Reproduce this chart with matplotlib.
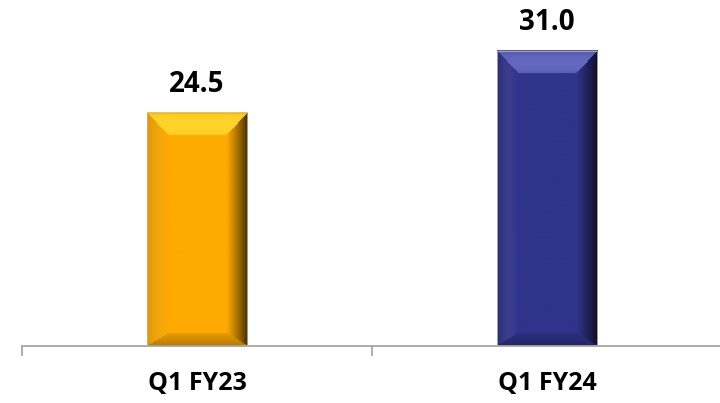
import matplotlib.pyplot as plt
import numpy as np
from matplotlib.colors import to_rgb

# data
categories = ['Q1 FY23', 'Q1 FY24']
values = [24.5, 31.0]
value_labels = ['24.5', '31.0']
bar_colors = ['#FFAA00', '#30338A']
top_tints = ['#FFD52A', '#6469BE']

plt.rcParams['font.family'] = ['Open Sans', 'DejaVu Sans']


def bevel_image(color, tint, w, h, top=23, side=21, bottom=13):
    # raster of a bevelled bar: light top, dark right edge, darker bottom
    base = np.array(to_rgb(color))
    lt = np.array(to_rgb(tint))
    yy, xx = np.mgrid[0:h, 0:w] + 0.5
    d = np.stack([yy / top, (h - yy) / bottom, xx / side, (w - xx) / side])
    m = d.min(0)
    k = d.argmin(0)
    t = np.clip(m, 0, 1)[..., None]
    img = np.tile(base, (h, w, 1))
    sel = m < 1
    # top bevel: warmer at the rim, bright band toward the face
    top_c = base + (lt - base) * (0.35 + 0.65 * np.sin(np.pi * (0.15 + 0.6 * t)))
    img[sel & (k == 0)] = top_c[sel & (k == 0)]
    # left bevel: slightly darker rim, light stripe inside
    left_c = base * (0.88 + 0.12 * t) + (1 - base) * 0.06 * np.sin(np.pi * t)
    img[sel & (k == 2)] = left_c[sel & (k == 2)]
    # right bevel: fades to near black at the rim
    right_c = base * (0.22 + 0.78 * t ** 0.8)
    img[sel & (k == 3)] = right_c[sel & (k == 3)]
    # bottom bevel
    bot_c = base * (0.72 + 0.2 * t)
    img[sel & (k == 1)] = bot_c[sel & (k == 1)]
    return np.clip(img, 0, 1)


fig = plt.figure(figsize=(7.2, 4.03), dpi=100)
ax = fig.add_axes([22 / 720, 57 / 403, 700 / 720, 346 / 403])

x = np.arange(len(categories))
bars = ax.bar(x, values, width=0.286, color='none', edgecolor='#BDB3A0',
              linewidth=0.6, zorder=3)
ax.set_xlim(-0.5, 1.5)
ax.set_ylim(0, 36.34)

for b, c, tc in zip(bars, bar_colors, top_tints):
    x0, x1 = b.get_x(), b.get_x() + b.get_width()
    h = b.get_height()
    p0 = ax.transData.transform((x0, 0))
    p1 = ax.transData.transform((x1, h))
    wpx = int(round(p1[0] - p0[0]))
    hpx = int(round(p1[1] - p0[1]))
    ax.imshow(bevel_image(c, tc, wpx, hpx), extent=(x0, x1, 0, h),
              aspect='auto', origin='upper', interpolation='bilinear', zorder=2)

ax.set_xlim(-0.5, 1.5)
ax.set_ylim(0, 36.34)

for b, lab in zip(bars, value_labels):
    ax.annotate(lab, (b.get_x() + b.get_width() / 2, b.get_height()),
                xytext=(0, 15), textcoords='offset points', ha='center',
                va='baseline', fontsize=20, fontweight='bold', color='black')

for s in ['top', 'right', 'left']:
    ax.spines[s].set_visible(False)
ax.spines['bottom'].set_color('#A6A6A6')
ax.spines['bottom'].set_linewidth(1.3)
ax.set_yticks([])
ax.set_xticks([-0.5, 0.5, 1.5])
ax.set_xticklabels([])
ax.tick_params(axis='x', which='major', length=7, width=1.3, color='#A6A6A6')
ax.set_xticks(x, minor=True)
ax.set_xticklabels(categories, minor=True, fontsize=18, fontweight='bold')
ax.tick_params(axis='x', which='minor', length=0, pad=18)

fig.savefig('out.png', dpi=100)
